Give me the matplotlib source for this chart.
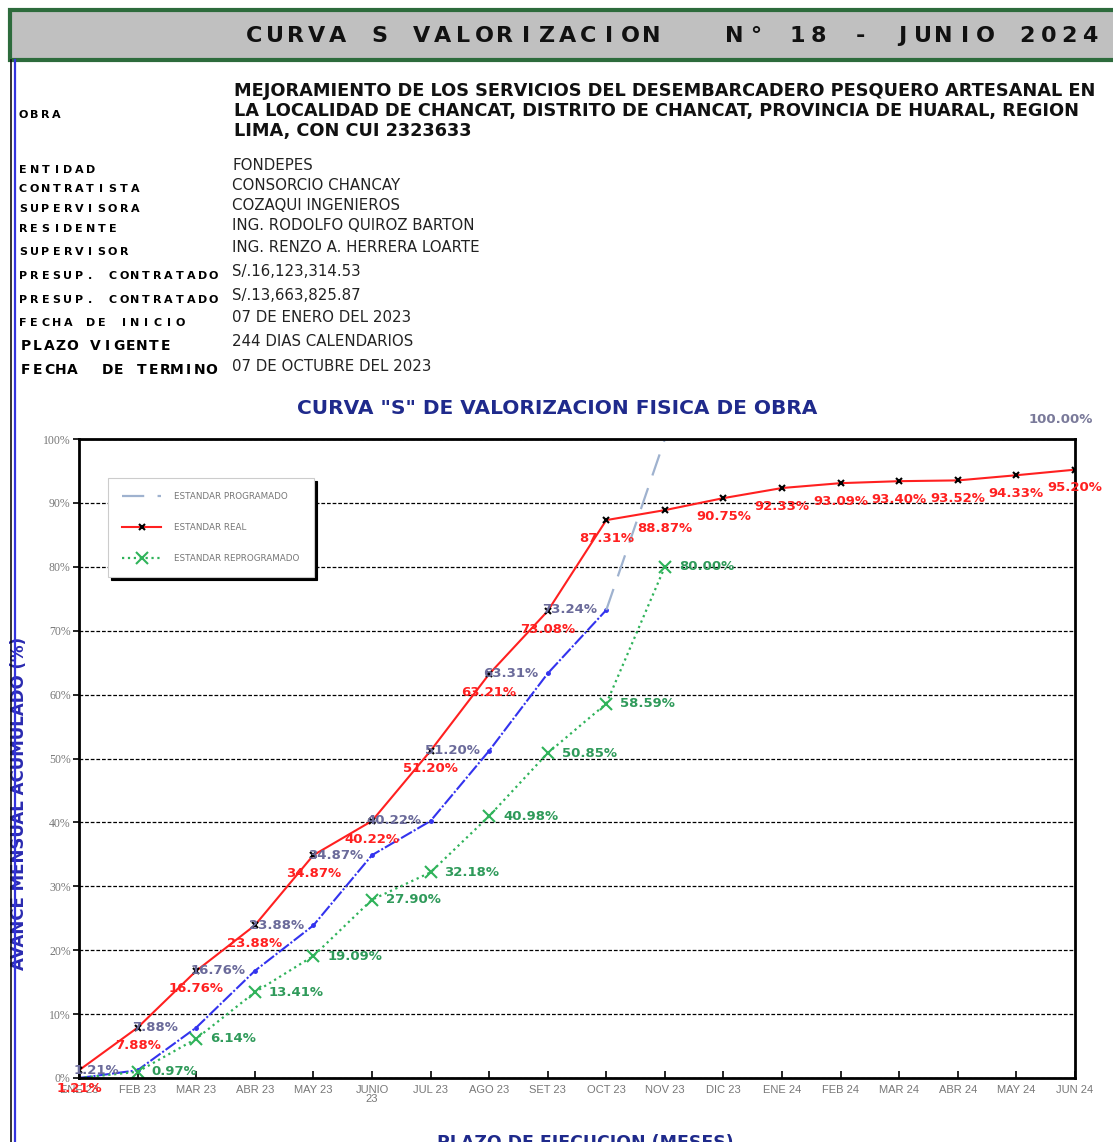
import matplotlib
matplotlib.use("Agg")
import matplotlib.pyplot as plt
from matplotlib.patches import Rectangle
from matplotlib.lines import Line2D

W, H = 1113, 1142

# --- data ---
months = ["ENE 23", "FEB 23", "MAR 23", "ABR 23", "MAY 23", "JUNIO\n23", "JUL 23",
          "AGO 23", "SET 23", "OCT 23", "NOV 23", "DIC 23", "ENE 24", "FEB 24",
          "MAR 24", "ABR 24", "MAY 24", "JUN 24"]
real = [1.21, 7.88, 16.76, 23.88, 34.87, 40.22, 51.20, 63.21, 73.08, 87.31,
        88.87, 90.75, 92.33, 93.09, 93.40, 93.52, 94.33, 95.20]
programado = [1.21, 7.88, 16.76, 23.88, 34.87, 40.22, 51.20, 63.31, 73.24]
programado_linea = [0.0, 1.21, 7.88, 16.76, 23.88, 34.87, 40.22, 51.20, 63.31, 73.24]
programado_final = [73.24, 100, 100, 100, 100, 100, 100, 100, 100]
reprogramado = [0.0, 0.97, 6.14, 13.41, 19.09, 27.90, 32.18, 40.98, 50.85, 58.59, 80.00]

info_labels = ["ENTIDAD", "CONTRATISTA", "SUPERVISORA", "RESIDENTE", "SUPERVISOR",
               "PRESUP. CONTRATADO", "PRESUP. CONTRATADO", "FECHA DE INICIO",
               "PLAZO VIGENTE", "FECHA  DE TERMINO"]
info_values = ["FONDEPES", "CONSORCIO CHANCAY", "COZAQUI INGENIEROS",
               "ING. RODOLFO QUIROZ BARTON", "ING. RENZO A. HERRERA LOARTE",
               "S/.16,123,314.53", "S/.13,663,825.87", "07 DE ENERO DEL 2023",
               "244 DIAS CALENDARIOS", "07 DE OCTUBRE DEL 2023"]
obra_lines = ["MEJORAMIENTO DE LOS SERVICIOS DEL DESEMBARCADERO PESQUERO ARTESANAL EN",
              "LA LOCALIDAD DE CHANCAT, DISTRITO DE CHANCAT, PROVINCIA DE HUARAL, REGION",
              "LIMA, CON CUI 2323633"]


def fx(x):
    return x / W


def fy(y):
    return 1 - y / H


def spaced(fig, x0, y, text, step, **kw):
    # draw a string one character at a time with a fixed advance (pixels)
    for i, ch in enumerate(text):
        if ch != " ":
            fig.text(fx(x0 + i * step), fy(y), ch, ha="center", va="center", **kw)


fig = plt.figure(figsize=(W / 100, H / 100), dpi=100)

# header band
fig.patches.append(Rectangle((fx(10), fy(60)), fx(1110), 50 / H, transform=fig.transFigure,
                             facecolor="#c0c0c0", edgecolor="#2d6b3c", linewidth=3))
spaced(fig, 254, 36, "CURVA S VALORIZACION   N° 18 - JUNIO 2024", 20.9,
       fontsize=16, fontweight="heavy", family="DejaVu Sans", color="#111111")

# left border
fig.add_artist(Line2D([fx(11), fx(11)], [fy(60), 0], transform=fig.transFigure,
                      color="#111111", linewidth=1.2))
fig.add_artist(Line2D([fx(14.5), fx(14.5)], [fy(60), 0], transform=fig.transFigure,
                      color="#3333dd", linewidth=1.6))

# obra block
spaced(fig, 23, 115, "OBRA", 11.0, fontsize=8, fontweight="bold", family="DejaVu Sans")
for i, line in enumerate(obra_lines):
    fig.text(fx(234), fy(91 + i * 20), line, fontsize=12.8, fontweight="bold",
             va="center", family="DejaVu Sans", color="#111111")

label_y = [170, 189, 209, 229, 252, 276, 300, 323, 346, 370]
value_y = [165, 186, 206, 226, 248, 271, 295, 318, 342, 366]
for i, (lab, val) in enumerate(zip(info_labels, info_values)):
    if i >= 8:
        spaced(fig, 26, label_y[i], lab, 11.6, fontsize=10, fontweight="heavy",
               family="DejaVu Sans")
    else:
        spaced(fig, 23, label_y[i], lab, 11.2, fontsize=8, fontweight="heavy",
               family="DejaVu Sans")
    fig.text(fx(232), fy(value_y[i]), val, va="center", fontsize=10.8,
             color="#222222", family="DejaVu Sans")

# chart
ax = fig.add_axes([fx(79), fy(1078), 996 / W, 639 / H])
x = list(range(len(months)))

ax.plot(range(len(programado_linea)), programado_linea, color="#3333ee", linewidth=1.5,
        linestyle=(0, (6, 1, 1, 1)), marker="o", markersize=2.5, label="_nolegend_")
ax.plot(range(9, 9 + len(programado_final)), programado_final, color="#9fb2cf",
        linewidth=1.6, dashes=(10, 6), label="ESTANDAR PROGRAMADO")
ax.plot(x, real, color="#ff2020", linewidth=1.5, marker="x", markersize=5,
        markeredgecolor="black", markeredgewidth=1.5, label="ESTANDAR REAL")
ax.plot(range(len(reprogramado)), reprogramado, color="#2fb35a", linewidth=1.6,
        linestyle=":", marker="x", markersize=8, markevery=list(range(1, len(reprogramado))),
        markeredgewidth=1.5, label="ESTANDAR REPROGRAMADO")

for i, v in enumerate(real):
    ax.annotate(f"{v:.2f}%", (i, v), xytext=(0, -13), textcoords="offset points",
                ha="center", va="center", fontsize=9.5, fontweight="bold", color="#ff2020")
for i, v in enumerate(programado):
    ax.annotate(f"{v:.2f}%", (i, v), xytext=(-4, 0), textcoords="offset points",
                ha="left", va="center", fontsize=9.5, fontweight="bold", color="#6a6a9a")
for i, v in enumerate(reprogramado[1:], start=1):
    ax.annotate(f"{v:.2f}%", (i, v), xytext=(10, 0), textcoords="offset points",
                ha="left", va="center", fontsize=9.5, fontweight="bold", color="#2f9a5a")
ax.annotate(f"{programado_final[-1]:.2f}%", (17, 100), xytext=(-10, 14),
            textcoords="offset points", ha="center", va="center", fontsize=9.5,
            fontweight="bold", color="#7a7a9a")

ax.set_xlim(0, 17)
ax.set_ylim(0, 100)
ax.set_xticks(x)
ax.set_xticklabels(months, fontsize=8, color="#777777", family="Liberation Sans",
                   linespacing=0.9)
ax.set_yticks(range(0, 101, 10))
ax.set_yticklabels([f"{v}%" for v in range(0, 101, 10)], fontsize=8.5, color="#777777",
                   family="Liberation Serif")
ax.tick_params(axis="x", direction="in", length=5, width=1.2, pad=5)
ax.tick_params(axis="y", direction="out", length=4, width=1.2, pad=2)
ax.yaxis.grid(True, color="black", linestyle=(0, (3, 1.5)), linewidth=0.9)
ax.set_axisbelow(True)
for s in ax.spines.values():
    s.set_linewidth(2)

fig.text(fx(557), fy(408), 'CURVA "S" DE VALORIZACION FISICA DE OBRA', ha="center",
         va="center", fontsize=14.5, fontweight="bold", color="#1f2a8c")
ax.set_ylabel("AVANCE MENSUAL ACUMULADO (%)", fontsize=12, fontweight="bold",
              color="#2a2ab0")
ax.yaxis.set_label_coords(-0.051, 0.43)
ax.set_xlabel("PLAZO DE EJECUCION (MESES)", fontsize=12.5, fontweight="bold",
              color="#1f2a8c")
ax.xaxis.set_label_coords(0.508, -0.088)

leg = ax.legend(loc="upper left", bbox_to_anchor=(0.029, 0.939), fontsize=6.3,
                frameon=True, fancybox=False,
                shadow={"color": "black", "alpha": 1}, borderpad=1.6, labelspacing=2.5,
                handlelength=4.5, handletextpad=1.5, borderaxespad=0, edgecolor="#cccccc")
leg.get_frame().set_linewidth(0.8)
for t in leg.get_texts():
    t.set_color("#777777")

fig.savefig("out.png", dpi=100)
